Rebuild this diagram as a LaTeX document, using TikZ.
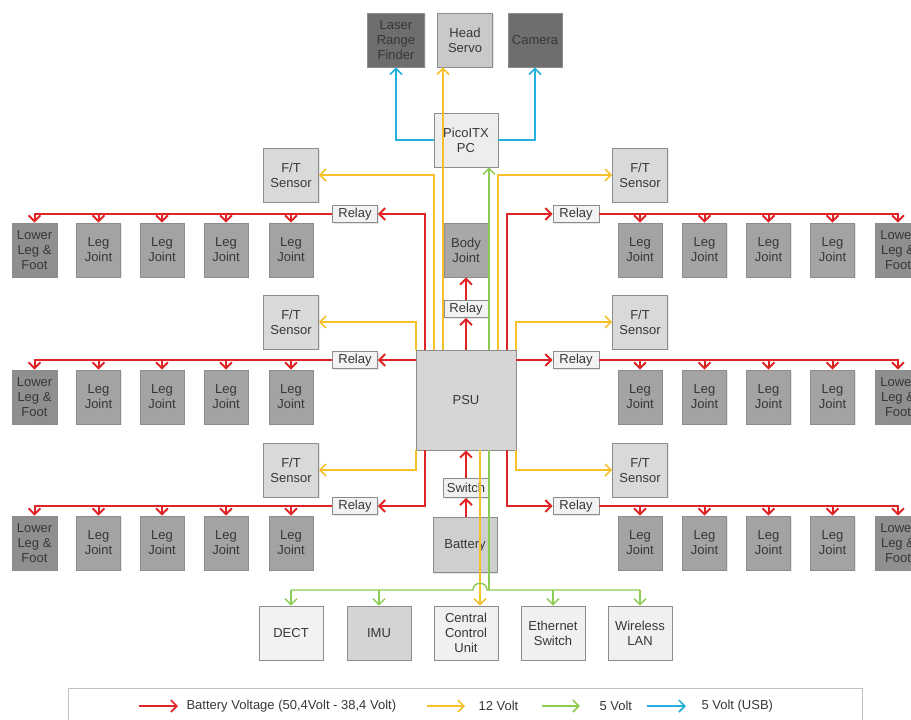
\documentclass[tikz,border=0pt]{standalone}
\usepackage{fontspec}
\setmainfont{Liberation Sans}
\usetikzlibrary{arrows.meta, positioning, shadows}
\definecolor{pwr}{RGB}{222,36,36}
\definecolor{vtw}{RGB}{246,192,44}
\definecolor{vfv}{RGB}{140,204,80}
\definecolor{usb}{RGB}{36,176,222}
\definecolor{txt}{RGB}{55,55,55}
\tikzset{box/.style={rectangle,draw=black!45,line width=0.6pt,align=center,inner sep=1pt,minimum width=44pt,minimum height=54pt,text=txt,font=\fontsize{13}{15}\selectfont,drop shadow={shadow xshift=1.2pt,shadow yshift=-1.2pt,opacity=0.2}},
lowbox/.style={box,fill=black!44},legbox/.style={box,fill=black!36},ftbox/.style={box,fill=black!15,minimum width=55pt},
relaybox/.style={box,fill=black!5,minimum width=45pt,minimum height=17pt,inner sep=0pt},
arr/.style={-{Straight Barb[length=6pt,width=12pt]}},
batline/.style={arr,draw=pwr,line width=2pt},twelve/.style={arr,draw=vtw,line width=1.7pt},
fiveline/.style={arr,draw=vfv,line width=1.4pt},usbline/.style={arr,draw=usb,line width=1.7pt}}

\begin{document}
\begin{tikzpicture}[x=1pt,y=-1pt]
\useasboundingbox (0,0) rectangle (911,720);
% head
\node[box,fill=black!57,minimum width=57pt] (laser) at (396,40) {Laser\\Range\\Finder};
\node[box,fill=black!21,minimum width=55pt] (servo) at (465,40) {Head\\Servo};
\node[box,fill=black!57,minimum width=54pt] (camera) at (535,40) {Camera};
\node[box,fill=black!7,minimum width=64pt] (pc) at (466,140) {PicoITX\\PC};
% body
\node[box,fill=black!34] (bjoint) at (466,250) {Body\\Joint};
\node[relaybox,minimum width=44pt] (brelay) at (466,309) {Relay};
\node[box,fill=black!16,minimum width=100pt,minimum height=100pt] (psu) at (466,400) {PSU};
\node[relaybox,fill=black!6,minimum height=19pt] (switch) at (466,488) {Switch};
\node[box,fill=black!19,minimum width=64pt,minimum height=55pt] (batt) at (465,545) {Battery};
% legs
\foreach \r/\y in {1/250,2/397,3/543} {
  \node[lowbox,minimum width=45pt] (ll\r) at (34.5,\y) {Lower\\Leg \&\\Foot};
  \node[legbox] (ljl\r-1) at (98.5,\y) {Leg\\Joint};
  \node[legbox] (ljl\r-2) at (162,\y) {Leg\\Joint};
  \node[legbox] (ljl\r-3) at (226,\y) {Leg\\Joint};
  \node[legbox] (ljl\r-4) at (291,\y) {Leg\\Joint};
  \node[legbox] (ljr\r-1) at (640,\y) {Leg\\Joint};
  \node[legbox] (ljr\r-2) at (704.5,\y) {Leg\\Joint};
  \node[legbox] (ljr\r-3) at (768.5,\y) {Leg\\Joint};
  \node[legbox] (ljr\r-4) at (832.5,\y) {Leg\\Joint};
  \node[lowbox,minimum width=46pt] (lr\r) at (898,\y) {Lower\\Leg \&\\Foot};
}
\foreach \r/\y in {1/214,2/360,3/506} {
  \node[relaybox] (rl\r) at (355,\y) {Relay};
  \node[relaybox,minimum width=46pt] (rr\r) at (576,\y) {Relay};
}
\node[ftbox] (ftl1) at (291,175) {F/T\\Sensor};
\node[ftbox] (ftl2) at (291,322) {F/T\\Sensor};
\node[ftbox] (ftl3) at (291,470) {F/T\\Sensor};
\node[ftbox] (ftr1) at (640,175) {F/T\\Sensor};
\node[ftbox] (ftr2) at (640,322) {F/T\\Sensor};
\node[ftbox] (ftr3) at (640,470) {F/T\\Sensor};
% bottom units
\node[box,fill=black!5,minimum width=64pt] (dect) at (291,633) {DECT};
\node[box,fill=black!17,minimum width=64pt] (imu) at (379,633) {IMU};
\node[box,fill=black!6,minimum width=64pt] (ccu) at (466,633) {Central\\Control\\Unit};
\node[box,fill=black!6,minimum width=64pt] (eth) at (553,633) {Ethernet\\Switch};
\node[box,fill=black!6,minimum width=64pt] (wlan) at (640,633) {Wireless\\LAN};
% supply lines
\draw[usbline] (pc.west) -| (laser.south);
\draw[usbline] (pc.east) -| (camera.south);
\draw[twelve] ([xshift=-23pt]psu.north) -- ([xshift=-23pt]psu.north |- servo.south);
\draw[fiveline] ([xshift=23pt]psu.north) -- ([xshift=23pt]psu.north |- pc.south);
\draw[batline] (psu.north) -- (brelay.south);
\draw[batline] (brelay.north) -- (bjoint.south);
\draw[twelve] ([xshift=-32pt]psu.north) |- (ftl1.east);
\draw[twelve] ([xshift=32pt]psu.north) |- (ftr1.west);
\draw[batline] ([xshift=-41pt]psu.north) |- (rl1.east);
\draw[batline] ([xshift=41pt]psu.north) |- (rr1.west);
\draw[twelve] (psu.north west) |- (ftl2.east);
\draw[twelve] (psu.north east) |- (ftr2.west);
\draw[batline] (rl2.east -| psu.west) -- (rl2.east);
\draw[batline] (rr2.west -| psu.east) -- (rr2.west);
\draw[twelve] (psu.south west) |- (ftl3.east);
\draw[twelve] (psu.south east) |- (ftr3.west);
\draw[batline] ([xshift=-41pt]psu.south) |- (rl3.east);
\draw[batline] ([xshift=41pt]psu.south) |- (rr3.west);
\draw[batline] (switch.south |- batt.north) -- (switch.south);
\draw[batline] (switch.north) -- (switch.north |- psu.south);
\draw[twelve] ([xshift=14pt]psu.south) -- ([xshift=14pt]psu.south |- ccu.north);
% leg buses
\foreach \r in {1,2,3} {
  \draw[batline] (rl\r.west) -| (ll\r.north);
  \draw[batline] (rr\r.east) -| (lr\r.north);
  \foreach \k in {1,...,4} {
    \draw[batline] (ljl\r-\k.north |- rl\r.west) -- (ljl\r-\k.north);
    \draw[batline] (ljr\r-\k.north |- rr\r.east) -- (ljr\r-\k.north);
  }
}
% 5 volt bus
\coordinate (gjoin) at (489,590);
\coordinate (hop) at (480,590);
\draw[vfv,line width=1.4pt] ([xshift=23pt]psu.south) -- (gjoin);
\draw[vfv,line width=1.4pt] (dect.north |- gjoin) -- ([xshift=-7pt]hop) .. controls ([xshift=-7pt,yshift=9pt]hop) and ([xshift=7pt,yshift=9pt]hop) .. ([xshift=7pt]hop) -- (wlan.north |- gjoin);
\foreach \b in {dect,imu,eth,wlan}
  \draw[fiveline] (\b.north |- gjoin) -- (\b.north);
% legend
\draw[black!25] (68,730) |- (862,688) -- (862,730);
\node[anchor=west,text=txt,font=\fontsize{13}{15}\selectfont] (lbat) at (183,706) {Battery Voltage (50,4Volt - 38,4 Volt)};
\node[anchor=west,text=txt,font=\fontsize{13}{15}\selectfont] (ltw) at (475,706) {12 Volt};
\node[anchor=west,text=txt,font=\fontsize{13}{15}\selectfont] (lfv) at (596,706) {5 Volt};
\node[anchor=west,text=txt,font=\fontsize{13}{15}\selectfont] (lusb) at (698,706) {5 Volt (USB)};
\draw[batline,line width=1.6pt] ([xshift=-44pt]lbat.west) -- ([xshift=-5pt]lbat.west);
\draw[twelve,line width=1.6pt] ([xshift=-48pt]ltw.west) -- ([xshift=-10pt]ltw.west);
\draw[fiveline,line width=1.6pt] ([xshift=-54pt]lfv.west) -- ([xshift=-16pt]lfv.west);
\draw[usbline,line width=1.6pt] ([xshift=-51pt]lusb.west) -- ([xshift=-12pt]lusb.west);
\end{tikzpicture}
\end{document}
